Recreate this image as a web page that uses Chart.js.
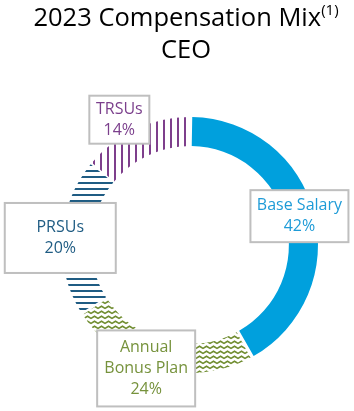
<!DOCTYPE html>
<html>
<head>
<meta charset="utf-8">
<script src="https://cdn.jsdelivr.net/npm/chart.js@4.4.1/dist/chart.umd.min.js"></script>
<style>
  body { margin: 0; background: #fff; }
  #wrap { position: relative; width: 354px; height: 411px; overflow: hidden; }
  #title {
    position: absolute; left: 0; top: 0; width: 372px; text-align: center;
    font-family: "Open Sans", sans-serif; font-size: 25.5px; line-height: 32px; color: #000;
  }
  #title sup { font-size: 15px; line-height: 0; position: relative; top: -2px; }
  canvas { position: absolute; left: 0; top: 0; }
</style>
</head>
<body>
<div id="wrap">
  <canvas id="mix" width="354" height="411"></canvas>
  <div id="title">2023 Compensation Mix<sup>(1)</sup><br>CEO</div>
</div>
<script>
// DATA
const categories = ['Base Salary', 'Annual Bonus Plan', 'PRSUs', 'TRSUs'];
const labelLines = [['Base Salary'], ['Annual', 'Bonus Plan'], ['PRSUs'], ['TRSUs']];
const shares = [42, 24, 20, 14];

// label box placement, relative to the middle of each arc
const boxOffsets = [[1, -1], [-16, 15], [-18, 0], [-23, -24]];
const boxSizes = [[98, 52], [98, 76], [111, 70], [60, 48]];
const textColors = ['#1E9BD7', '#76923C', '#1F5C83', '#7B3F8C'];

const ctx = document.getElementById('mix').getContext('2d');

// PATTERNS

function makePattern(w, h, draw) {
  const c = document.createElement('canvas');
  c.width = w;
  c.height = h;
  draw(c.getContext('2d'));
  return ctx.createPattern(c, 'repeat');
}

const zigzag = makePattern(7, 5, g => {
  g.strokeStyle = '#6F8C2F';
  g.lineWidth = 1.6;
  g.beginPath();
  g.moveTo(-0.5, 3.7);
  g.lineTo(3.5, 1.3);
  g.lineTo(7.5, 3.7);
  g.stroke();
});

const hStripes = makePattern(6, 6.5, g => {
  g.fillStyle = '#1F5C83';
  g.fillRect(0, 2, 6, 2);
});

const vStripes = makePattern(7, 6, g => {
  g.fillStyle = '#7E3F8C';
  g.fillRect(2, 0, 2, 6);
});

// LABEL BOXES

const labelBoxes = {
  id: 'labelBoxes',
  afterDatasetsDraw(chart) {
    const c = chart.ctx;
    chart.getDatasetMeta(0).data.forEach((arc, i) => {
      const p = arc.getProps(['x', 'y', 'startAngle', 'endAngle', 'innerRadius', 'outerRadius'], true);
      const mid = (p.startAngle + p.endAngle) / 2;
      const r = (p.innerRadius + p.outerRadius) / 2;
      const cx = p.x + Math.cos(mid) * r + boxOffsets[i][0];
      const cy = p.y + Math.sin(mid) * r + boxOffsets[i][1];
      const [w, h] = boxSizes[i];

      c.save();
      c.fillStyle = '#fff';
      c.fillRect(cx - w / 2, cy - h / 2, w, h);
      c.strokeStyle = '#BFBFBF';
      c.lineWidth = 2;
      c.strokeRect(cx - w / 2, cy - h / 2, w, h);

      const lines = labelLines[i].concat([shares[i] + '%']);
      const lh = 21;
      c.fillStyle = textColors[i];
      c.font = '16px "Open Sans"';
      c.textAlign = 'center';
      c.textBaseline = 'middle';
      lines.forEach((t, k) => {
        c.fillText(t, cx, cy + (k - (lines.length - 1) / 2) * lh);
      });
      c.restore();
    });
  }
};

new Chart(ctx, {
  type: 'doughnut',
  data: {
    labels: categories,
    datasets: [{
      data: shares,
      backgroundColor: ['#00A0DD', zigzag, hStripes, vStripes],
      borderWidth: 0,
      spacing: 3,
    }],
  },
  options: {
    responsive: false,
    animation: false,
    cutout: '77%',
    layout: { padding: { top: 117, bottom: 38, left: 62, right: 36 } },
    plugins: {
      legend: { display: false },
      tooltip: { enabled: false },
    },
  },
  plugins: [labelBoxes],
});
</script>
</body>
</html>
